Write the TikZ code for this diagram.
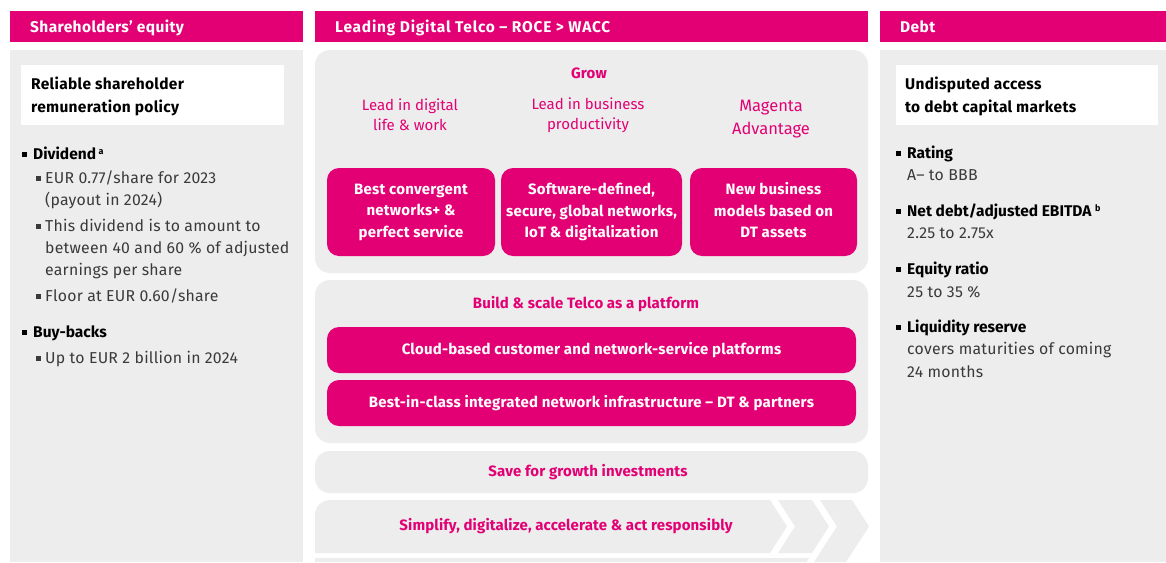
\documentclass[tikz,border=0pt]{standalone}
\usepackage{fontspec}
\setmainfont{Fira Sans}
\definecolor{mag}{HTML}{E20074}
\definecolor{pan}{HTML}{EDEDED}
\definecolor{txt}{HTML}{3A3A3A}
\newcommand{\bsqa}{\makebox[0pt][r]{\rule[2.5pt]{5pt}{5pt}\hspace{6.5pt}}}
\newcommand{\bsqb}{\makebox[0pt][r]{\rule[2.5pt]{5pt}{5pt}\hspace{4.5pt}}}
\tikzset{
  hdr/.style={anchor=base west, text=white, inner sep=0, font=\fontsize{15.5}{18}\selectfont\bfseries\addfontfeature{LetterSpace=2.5}},
  ttl/.style={anchor=base west, text=black, inner sep=0, font=\fontsize{15.5}{18}\selectfont\bfseries\addfontfeature{LetterSpace=2}},
  bhead/.style={anchor=base west, text=black, inner sep=0, font=\fontsize{15.5}{18}\selectfont\bfseries},
  btext/.style={anchor=base west, text=txt, inner sep=0, font=\fontsize{15.8}{18}\selectfont\addfontfeature{LetterSpace=1.5}},
  magtxt/.style={text=mag, inner sep=0, align=center, font=\fontsize{15}{20}\selectfont},
  magbold/.style={text=mag, inner sep=0, font=\fontsize{15}{18}\selectfont\bfseries\addfontfeature{LetterSpace=1}},
  magbox/.style={fill=mag, rounded corners=12pt, text=white, align=center, inner sep=0,
    font=\fontsize{15}{21.5}\selectfont\bfseries\addfontfeature{LetterSpace=1.5}},
  panel/.style={fill=pan},
}
\begin{document}
\begin{tikzpicture}[x=1pt,y=-1pt]
\useasboundingbox (0,0) rectangle (1166,562);
\fill[white] (0,0) rectangle (1166,562);

% ---------- left column ----------
\fill[mag] (10,11) rectangle (303,42);
\node[hdr] (lh) at (30,32) {Shareholders’ equity};
\fill[panel] (10,50) rectangle (303,562);
\fill[white] (21,65) rectangle (284,125);
\node[ttl] (lt1) at (31,89) {Reliable shareholder};
\node[ttl] (lt2) at (31,112) {remuneration policy};

\node[bhead] (d0) at (33,159) {\bsqa Dividend\,\raisebox{5pt}{\fontsize{9}{9}\selectfont a}};
\node[btext] (d1) at (45,183.5) {\bsqb EUR 0.77/share for 2023};
\node[btext] (d2) at (45,205.5) {(payout in 2024)};
\node[btext] (d3) at (45,231.5) {\bsqb This dividend is to amount to};
\node[btext] (d4) at (45,253.5) {between 40 and 60 \% of adjusted};
\node[btext] (d5) at (45,275.5) {earnings per share};
\node[btext] (d6) at (45,301.5) {\bsqb Floor at EUR 0.60/share};
\node[bhead] (b0) at (33,337.5) {\bsqa Buy-backs};
\node[btext] (b1) at (45,363.5) {\bsqb Up to EUR 2 billion in 2024};

% ---------- middle column ----------
\fill[mag] (315,11) rectangle (868,42);
\node[hdr, font=\fontsize{15.5}{18}\selectfont\bfseries\addfontfeature{LetterSpace=5}] (mh) at (335,32) {Leading Digital Telco – ROCE > WACC};

\fill[panel, rounded corners=15pt] (315,50) rectangle (868,273);
\node[magbold] (grow) at (589,73.5) {Grow};
\node[magtxt] (g1) at (410,115) {Lead in digital\\life \& work};
\node[magtxt] (g2) at (588,115) {Lead in business\\productivity};
\node[magtxt, font=\fontsize{16.5}{23}\selectfont] (g3) at (771,119) {Magenta\\Advantage};
\node[magbox, minimum width=168pt, minimum height=88pt] (m1) at (411,212)
  {Best convergent\\networks+ \&\\perfect service};
\node[magbox, minimum width=181pt, minimum height=88pt] (m2) at (591.5,212)
  {Software-defined,\\secure, global networks,\\IoT \& digitalization};
\node[magbox, minimum width=167pt, minimum height=88pt] (m3) at (773.5,212)
  {New business\\models based on\\DT assets\vphantom{p}};

\fill[panel, rounded corners=15pt] (315,280) rectangle (868,443);
\node[magbold] (build) at (586,304) {Build \& scale Telco as a platform};
\node[magbox, minimum width=529pt, minimum height=46pt] (p1) at (591.5,350)
  {Cloud-based customer and network-service platforms};
\node[magbox, minimum width=529pt, minimum height=46pt] (p2) at (591.5,403)
  {Best-in-class integrated network infrastructure – DT \& partners};

\fill[panel, rounded corners=15pt] (315,451) rectangle (868,493);
\node[magbold] (save) at (588,472) {Save for growth investments};

% chevron row
\fill[panel] (787,526.5) -- (770,500) -- (330,500)
  arc[start angle=270, end angle=180, radius=15] -- (315,553) -- (770,553) -- cycle;
\fill[panel] (778,500) -- (812,500) -- (829,526.5) -- (812,553) -- (778,553) -- (795,526.5) -- cycle;
\fill[panel] (820,500) -- (852,500) -- (869,526.5) -- (846,562) -- (814,562) -- (837,526.5) -- cycle;
\fill[panel] (315,558) -- (809,558) -- (806.5,562) -- (315,562) -- cycle;
\node[magbold] (simp) at (566,526) {Simplify, digitalize, accelerate \& act responsibly};

% ---------- right column ----------
\fill[mag] (880,11) rectangle (1166,42);
\node[hdr] (rh) at (900,32) {Debt};
\fill[panel] (880,50) rectangle (1166,562);
\fill[white] (896,65) rectangle (1158,125);
\node[ttl] (rt1) at (905,89) {Undisputed access};
\node[ttl] (rt2) at (905,112) {to debt capital markets};

\node[bhead] (r1) at (907,158.5) {\bsqa Rating};
\node[btext] (r1a) at (907,180.5) {A– to BBB};
\node[bhead] (r2) at (907,216.5) {\bsqa Net debt/adjusted EBITDA \raisebox{5pt}{\fontsize{9}{9}\selectfont b}};
\node[btext] (r2a) at (907,238.5) {2.25 to 2.75x};
\node[bhead] (r3) at (907,274.5) {\bsqa Equity ratio};
\node[btext] (r3a) at (907,297.5) {25 to 35 \%};
\node[bhead] (r4) at (907,332.5) {\bsqa Liquidity reserve};
\node[btext] (r4a) at (907,354.5) {covers maturities of coming};
\node[btext] (r4b) at (907,377.5) {24 months};
\end{tikzpicture}
\end{document}
